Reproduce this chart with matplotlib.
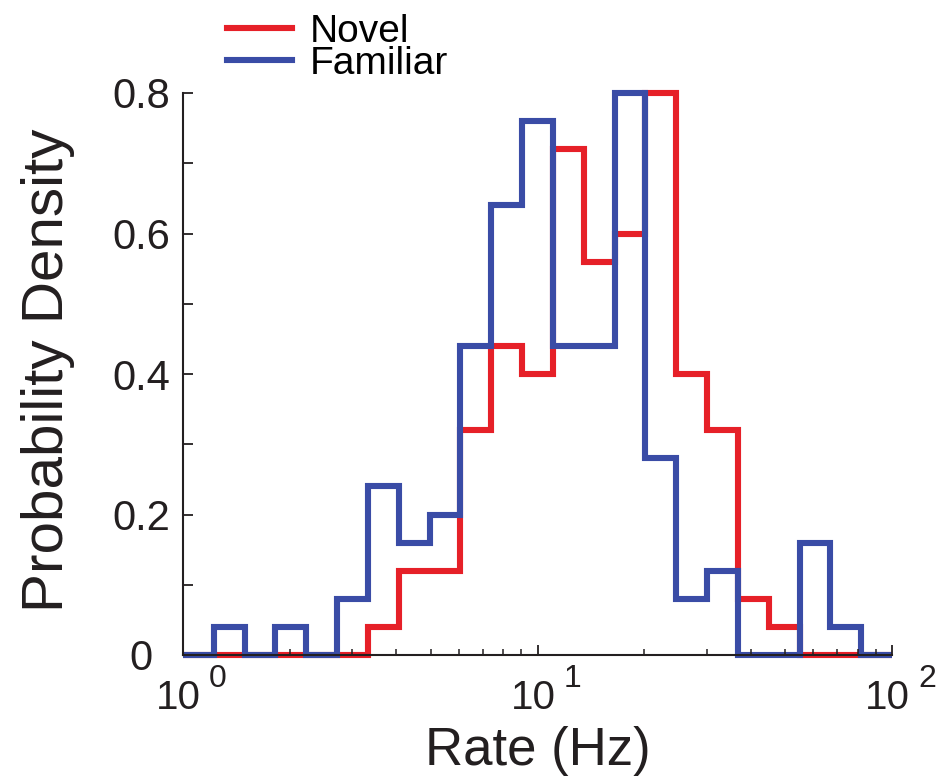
import numpy as np
import matplotlib
matplotlib.use("Agg")
import matplotlib.pyplot as plt
from matplotlib.ticker import FixedLocator, FuncFormatter, LogLocator, NullFormatter

plt.rcParams["font.family"] = ["Liberation Sans", "DejaVu Sans"]

# --- data: log-spaced bins from 1 to 100 Hz (23 bins) ---
bin_edges = 10 ** np.linspace(0, 2, 24)

novel = [0, 0, 0, 0, 0, 0, 0.04, 0.12, 0.12, 0.32, 0.44, 0.40,
         0.72, 0.56, 0.60, 0.80, 0.40, 0.32, 0.08, 0.04, 0, 0, 0]
familiar = [0, 0.04, 0, 0.04, 0, 0.08, 0.24, 0.16, 0.20, 0.44, 0.64, 0.76,
            0.44, 0.44, 0.80, 0.28, 0.08, 0.12, 0, 0, 0.16, 0.04, 0]

y_ticks = [0, 0.2, 0.4, 0.6, 0.8]
x_ticks = [1, 10, 100]
x_exponents = ["0", "1", "2"]

RED = "#e62028"
BLUE = "#3a4ca6"
TXT = "#231f20"

fig = plt.figure(figsize=(9.39, 7.80), dpi=100)
ax = fig.add_axes([183 / 939, 1 - 655 / 780, 709 / 939, 562 / 780])

s1 = ax.stairs(novel, bin_edges, baseline=0, fill=False, color=RED,
               lw=4.4, clip_on=False, label="Novel")
s2 = ax.stairs(familiar, bin_edges, baseline=0, fill=False, color=BLUE,
               lw=4.4, clip_on=False, label="Familiar")
for s in (s1, s2):
    s.set_joinstyle("miter")

ax.set_xscale("log")
ax.set_xlim(1, 100)
ax.set_ylim(0, 0.8)

ax.yaxis.set_major_locator(FixedLocator(y_ticks))
ax.yaxis.set_minor_locator(FixedLocator([0.1, 0.3, 0.5, 0.7]))
ax.yaxis.set_major_formatter(FuncFormatter(lambda v, p: "0" if v == 0 else f"{v:.1f}"))
ax.xaxis.set_major_locator(FixedLocator(x_ticks))
ax.xaxis.set_major_formatter(NullFormatter())
ax.xaxis.set_minor_locator(LogLocator(base=10, subs=np.arange(2, 10), numticks=20))
ax.xaxis.set_minor_formatter(NullFormatter())

ax.spines["top"].set_visible(False)
ax.spines["right"].set_visible(False)
for sp in ("left", "bottom"):
    ax.spines[sp].set_linewidth(1.5)
    ax.spines[sp].set_color(TXT)

ax.tick_params(axis="both", which="major", direction="in", length=7, width=1.3,
               labelsize=30, colors=TXT)
ax.tick_params(axis="y", which="minor", direction="in", length=7, width=1.3, colors=TXT)
ax.tick_params(axis="x", which="minor", direction="in", length=4, width=1.1, colors=TXT)
ax.tick_params(axis="y", which="major", pad=30)
for lab in ax.get_yticklabels():
    lab.set_horizontalalignment("center")

# x tick labels written as "10" with a large exponent, like the original
xform = ax.get_xaxis_transform()
for v, e in zip(x_ticks, x_exponents):
    ax.annotate("10", xy=(v, 0), xycoords=xform, xytext=(18, -54),
                textcoords="offset pixels", ha="right", va="baseline",
                fontsize=29, color=TXT, annotation_clip=False)
    ax.annotate(e, xy=(v, 0), xycoords=xform, xytext=(26, -32),
                textcoords="offset pixels", ha="left", va="baseline",
                fontsize=23, color=TXT, annotation_clip=False)

ax.set_xlabel("Rate (Hz)", fontsize=38, color=TXT)
ax.xaxis.set_label_coords(0.5, -0.126)
ax.set_ylabel("Probability Density", fontsize=42, color=TXT)
ax.yaxis.set_label_coords(-0.152, 0.507)

fig.legend(handles=[s1, s2], labels=["Novel", "Familiar"],
           loc="upper left", bbox_to_anchor=(227 / 939, 1 - 14 / 780),
           frameon=False, fontsize=28, handlelength=1.67, handletextpad=0.46,
           labelspacing=-0.1, borderpad=0, borderaxespad=0)

fig.savefig("out.png", dpi=100)
